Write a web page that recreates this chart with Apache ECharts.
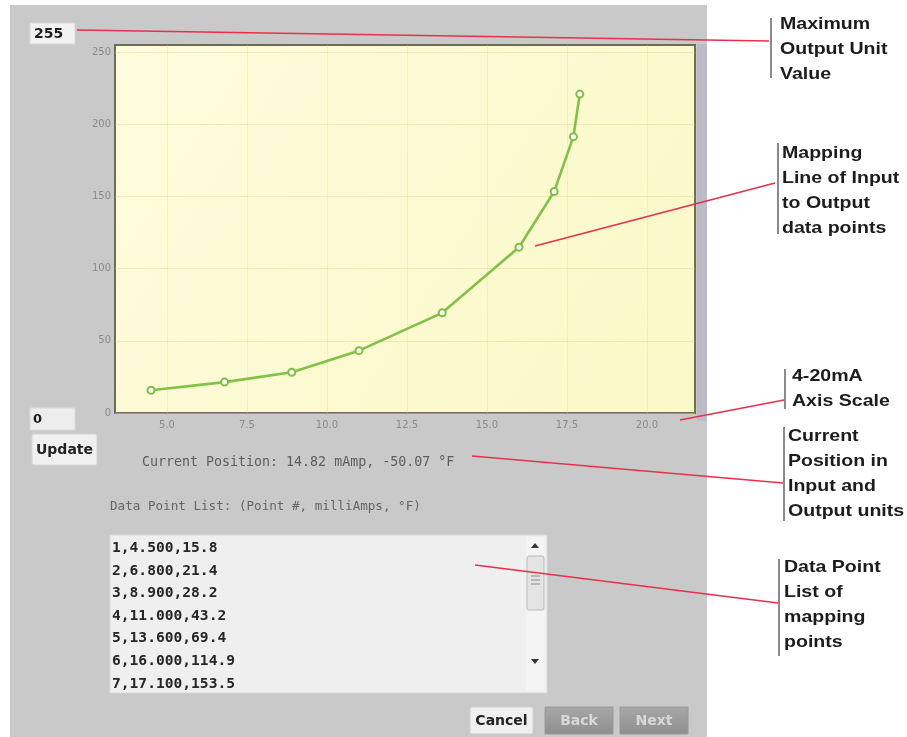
<!DOCTYPE html>
<html>
<head>
<meta charset="utf-8">
<script src="https://cdn.jsdelivr.net/npm/echarts@6/dist/echarts.min.js"></script>
<style>
html,body{margin:0;padding:0;background:#fff;}
#main{width:907px;height:737px;}
</style>
</head>
<body>
<div id="main"></div>
<script>
// ---- data ----
const pointNo   = [1, 2, 3, 4, 5, 6, 7, 8, 9];
const milliAmps = [4.5, 6.8, 8.9, 11.0, 13.6, 16.0, 17.1, 17.7, 17.9];
const outputF   = [15.8, 21.4, 28.2, 43.2, 69.4, 114.9, 153.5, 191.5, 221.0];
const xTicks = [5, 7.5, 10, 12.5, 15, 17.5, 20];
const yTicks = [0, 50, 100, 150, 200, 250];
const maxOutput = 255;
const minOutput = 0;
const currentText = 'Current Position: 14.82 mAmp, -50.07 \u00B0F';
const listTitle = 'Data Point List: (Point #, milliAmps, \u00B0F)';
const visibleRows = 7;
const annotations = [
  {lines: ['Maximum', 'Output Unit', 'Value'], x: 780, y: 24, bar: [771, 18, 78], from: [77, 30], to: [769, 41]},
  {lines: ['Mapping', 'Line of Input', 'to Output', 'data points'], x: 782, y: 153, bar: [778, 143, 234], from: [535, 246], to: [775, 183]},
  {lines: ['4-20mA', 'Axis Scale'], x: 792, y: 376, bar: [785, 369, 409], from: [680, 420], to: [784, 400]},
  {lines: ['Current', 'Position in', 'Input and', 'Output units'], x: 788, y: 436, bar: [784, 427, 521], from: [472, 456], to: [783, 483]},
  {lines: ['Data Point', 'List of', 'mapping', 'points'], x: 784, y: 567, bar: [779, 559, 656], from: [475, 565], to: [778, 603]}
];

const seriesData = milliAmps.map((v, i) => [v, outputF[i]]);
const listText = pointNo.slice(0, visibleRows)
  .map((n, i) => n + ',' + milliAmps[i].toFixed(3) + ',' + outputF[i].toFixed(1)).join('\n');

const chart = echarts.init(document.getElementById('main'), null, {renderer: 'canvas'});

const SANS = 'DejaVu Sans';
const MONO = 'DejaVu Sans Mono';
const ARIAL = 'Liberation Sans, Arial, Helvetica, sans-serif';

const graphics = [];
// panel background
graphics.push({type: 'rect', z: -20, shape: {x: 10, y: 5, width: 697, height: 732}, style: {fill: '#c9c9c9'}});
graphics.push({type: 'rect', z: -19, shape: {x: 697, y: 44, width: 10, height: 377}, style: {fill: '#bcbcc8'}});
// max / min boxes
graphics.push({type: 'rect', z: 5, shape: {x: 30, y: 23, width: 45, height: 21}, style: {fill: '#f2f2f2', stroke: '#d8d8d8', lineWidth: 1}});
graphics.push({type: 'text', z: 6, x: 34, y: 34, style: {text: String(maxOutput), fontFamily: SANS, fontWeight: 'bold', fontSize: 14, fill: '#1e1e1e', verticalAlign: 'middle'}});
graphics.push({type: 'rect', z: 5, shape: {x: 30, y: 408, width: 45, height: 22}, style: {fill: '#ededed', stroke: '#d8d8d8', lineWidth: 1}});
graphics.push({type: 'text', z: 6, x: 33, y: 420, style: {text: String(minOutput), fontFamily: SANS, fontWeight: 'bold', fontSize: 13, fill: '#1e1e1e', verticalAlign: 'middle'}});
// Update button
graphics.push({type: 'rect', z: 5, shape: {x: 32, y: 434, width: 65, height: 31, r: 2}, style: {fill: '#f0f0f0', stroke: '#d4d4d4', lineWidth: 1}});
graphics.push({type: 'text', z: 6, x: 64.5, y: 450, style: {text: 'Update', fontFamily: SANS, fontWeight: 'bold', fontSize: 14, fill: '#222', align: 'center', verticalAlign: 'middle'}});
// status texts
graphics.push({type: 'text', z: 6, x: 142, y: 463, style: {text: currentText, fontFamily: MONO, fontSize: 13.3, fill: '#5e5e5e', verticalAlign: 'middle'}});
graphics.push({type: 'text', z: 6, x: 110, y: 507, style: {text: listTitle, fontFamily: MONO, fontSize: 12.6, fill: '#666', verticalAlign: 'middle'}});
// textarea
graphics.push({type: 'rect', z: 5, shape: {x: 110, y: 535, width: 437, height: 158}, style: {fill: '#efefef', stroke: '#dadada', lineWidth: 1}});
graphics.push({type: 'text', z: 6, x: 112, y: 537, style: {text: listText, fontFamily: MONO, fontWeight: 'bold', fontSize: 14.6, fill: '#262626', lineHeight: 22.6, verticalAlign: 'top'}});
// scrollbar
graphics.push({type: 'rect', z: 6, shape: {x: 526, y: 537, width: 19, height: 154}, style: {fill: '#f4f4f4'}});
graphics.push({type: 'rect', z: 7, shape: {x: 527, y: 556, width: 17, height: 54, r: 2}, style: {fill: '#e4e4e4', stroke: '#b9b9b9', lineWidth: 1}});
graphics.push({type: 'polygon', z: 7, shape: {points: [[531, 548], [539, 548], [535, 543]]}, style: {fill: '#333'}});
graphics.push({type: 'polygon', z: 7, shape: {points: [[531, 659], [539, 659], [535, 664]]}, style: {fill: '#333'}});
[576, 580, 584].forEach(yy => graphics.push({type: 'line', z: 8, shape: {x1: 531, y1: yy, x2: 540, y2: yy}, style: {stroke: '#888', lineWidth: 1}}));
// bottom buttons
graphics.push({type: 'rect', z: 5, shape: {x: 470, y: 707, width: 63, height: 27, r: 2}, style: {fill: '#f0f0f0', stroke: '#d0d0d0', lineWidth: 1}});
graphics.push({type: 'text', z: 6, x: 501.5, y: 721, style: {text: 'Cancel', fontFamily: SANS, fontWeight: 'bold', fontSize: 14, fill: '#222', align: 'center', verticalAlign: 'middle'}});
[[545, 'Back'], [620, 'Next']].forEach(b => {
  graphics.push({type: 'rect', z: 5, shape: {x: b[0], y: 707, width: 68, height: 27}, style: {fill: new echarts.graphic.LinearGradient(0, 0, 0, 1, [{offset: 0, color: '#a8a8a8'}, {offset: 1, color: '#8e8e8e'}]), stroke: '#9a9a9a', lineWidth: 1}});
  graphics.push({type: 'text', z: 6, x: b[0] + 34, y: 721, style: {text: b[1], fontFamily: SANS, fontWeight: 'bold', fontSize: 14, fill: '#d8d8d8', align: 'center', verticalAlign: 'middle'}});
});
// annotations
annotations.forEach(a => {
  graphics.push({type: 'line', z: 100, shape: {x1: a.bar[0], y1: a.bar[1], x2: a.bar[0], y2: a.bar[2]}, style: {stroke: '#8a8a8a', lineWidth: 2}});
  graphics.push({type: 'line', z: 100, shape: {x1: a.from[0], y1: a.from[1], x2: a.to[0], y2: a.to[1]}, style: {stroke: '#e8304a', lineWidth: 1.6}});
  a.lines.forEach((t, i) => {
    graphics.push({type: 'text', z: 100, x: a.x, y: a.y + i * 25, scaleX: 1.15, style: {text: t, fontFamily: ARIAL, fontWeight: 'bold', fontSize: 17, fill: '#1c1c1c', verticalAlign: 'middle'}});
  });
});

const option = {
  backgroundColor: '#ffffff',
  animation: false,
  grid: {
    left: 115, top: 45, width: 580, height: 368,
    show: true,
    backgroundColor: new echarts.graphic.LinearGradient(0, 0, 1, 1, [{offset: 0, color: '#fefcdc'}, {offset: 1, color: '#fbf8c8'}]),
    borderColor: '#6e6e55', borderWidth: 2
  },
  xAxis: {
    type: 'value', min: 3.375, max: 21.5,
    axisLine: {show: false},
    axisTick: {show: false, customValues: xTicks},
    axisLabel: {customValues: xTicks, formatter: v => Number(v).toFixed(1), color: '#8a8a8a', fontSize: 10, fontFamily: SANS, margin: 7},
    splitLine: {show: true, lineStyle: {color: 'rgba(225,215,130,0.3)', width: 1}}
  },
  yAxis: {
    type: 'value', min: 0, max: maxOutput,
    axisLine: {show: false},
    axisTick: {show: false, customValues: yTicks},
    axisLabel: {customValues: yTicks, color: '#8a8a8a', fontSize: 10, fontFamily: SANS, margin: 4},
    splitLine: {show: true, lineStyle: {color: 'rgba(225,215,130,0.45)', width: 1}}
  },
  series: [{
    type: 'line',
    data: seriesData,
    symbol: 'emptyCircle',
    symbolSize: 7,
    lineStyle: {color: '#80c245', width: 2.6},
    itemStyle: {color: '#7cbf42', borderColor: '#7cbf42', borderWidth: 1.5},
    z: 3
  }],
  graphic: {elements: graphics}
};
chart.setOption(option);
</script>
</body>
</html>
